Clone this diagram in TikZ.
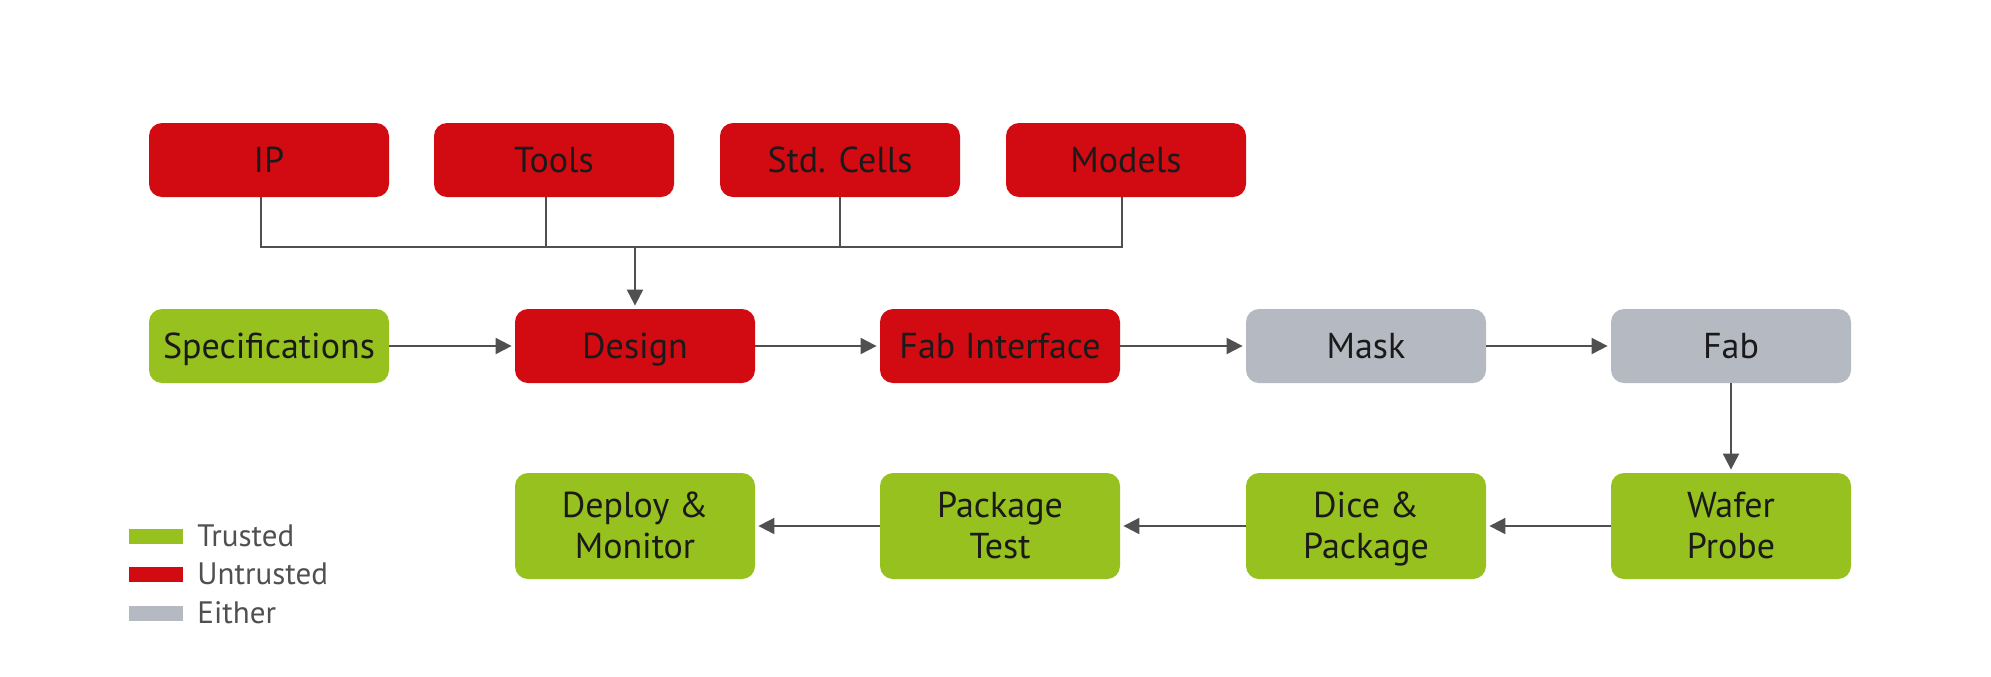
\documentclass[tikz,border=0pt]{standalone}
\usepackage{fontspec}
\setmainfont{PT Sans}
\usepackage{tikz}
\usetikzlibrary{arrows.meta}

\definecolor{untrusted}{RGB}{210,10,17}
\definecolor{trusted}{RGB}{150,193,31}
\definecolor{either}{RGB}{181,185,194}
\definecolor{wire}{RGB}{80,80,80}
\definecolor{ink}{RGB}{26,26,26}

\begin{document}
\begin{tikzpicture}[x=0.5pt, y=-0.5pt]
    % Styles
    \tikzstyle{stage} = [rectangle, rounded corners=6.5pt, minimum width=120pt, minimum height=37pt, inner sep=0pt, align=center, text=ink, font=\fontsize{18}{20.5}\selectfont, text height=16.6pt, text depth=4pt]
    \tikzstyle{tall} = [minimum height=53pt, text height=, text depth=0.6pt]
    \tikzstyle{line} = [draw=wire, line width=1pt]
    \tikzstyle{arrow} = [line, -{Triangle[length=8pt, width=8pt]}, shorten >=1.5pt]
    \tikzstyle{swatch} = [rectangle, minimum width=27pt, minimum height=7.5pt, inner sep=0pt]
    \tikzstyle{key} = [anchor=west, inner sep=0pt, text=wire, font=\fontsize{15.5}{18}\selectfont]

    \useasboundingbox (0,0) rectangle (1991,676);

    % Nodes - inputs
    \node[stage, fill=untrusted] (IP) at (269, 160) {IP};
    \node[stage, fill=untrusted] (Tools) at (554, 160) {Tools};
    \node[stage, fill=untrusted] (Cells) at (840, 160) {Std. Cells};
    \node[stage, fill=untrusted] (Models) at (1126, 160) {Models};

    % Nodes - flow
    \node[stage, fill=trusted] (Specs) at (269, 346) {Specifications};
    \node[stage, fill=untrusted] (Design) at (635, 346) {Design};
    \node[stage, fill=untrusted] (FabIf) at (1000, 346) {Fab Interface};
    \node[stage, fill=either] (Mask) at (1366, 346) {Mask};
    \node[stage, fill=either] (Fab) at (1731, 346) {Fab};
    \node[stage, tall, fill=trusted] (Probe) at (1731, 526) {Wafer\\Probe};
    \node[stage, tall, fill=trusted] (Dice) at (1366, 526) {Dice \&\\Package};
    \node[stage, tall, fill=trusted] (Test) at (1000, 526) {Package\\Test};
    \node[stage, tall, fill=trusted] (Deploy) at (635, 526) {Deploy \&\\Monitor};

    % Bus
    \coordinate (bus) at (635, 247);
    \draw[line] ([xshift=-4pt]IP.south) -- ([xshift=-4pt]IP.south |- bus) -- ([xshift=-2pt]Models.south |- bus) -- ([xshift=-2pt]Models.south);
    \draw[line] ([xshift=-4pt]Tools.south) -- ([xshift=-4pt]Tools.south |- bus);
    \draw[line] (Cells.south) -- (Cells.south |- bus);
    \draw[arrow] (bus) -- (Design.north);

    % Arrows
    \draw[arrow] (Specs) -- (Design);
    \draw[arrow] (Design) -- (FabIf);
    \draw[arrow] (FabIf) -- (Mask);
    \draw[arrow] (Mask) -- (Fab);
    \draw[arrow] (Fab) -- (Probe);
    \draw[arrow] (Probe) -- (Dice);
    \draw[arrow] (Dice) -- (Test);
    \draw[arrow] (Test) -- (Deploy);

    % Legend
    \node[swatch, fill=trusted] (kT) at (156, 536) {};
    \node[swatch, fill=untrusted] (kU) at (156, 574) {};
    \node[swatch, fill=either] (kE) at (156, 613) {};
    \node[key] at (197, 536) {Trusted};
    \node[key] at (197, 574) {Untrusted};
    \node[key] at (197, 613) {Either};
\end{tikzpicture}
\end{document}
